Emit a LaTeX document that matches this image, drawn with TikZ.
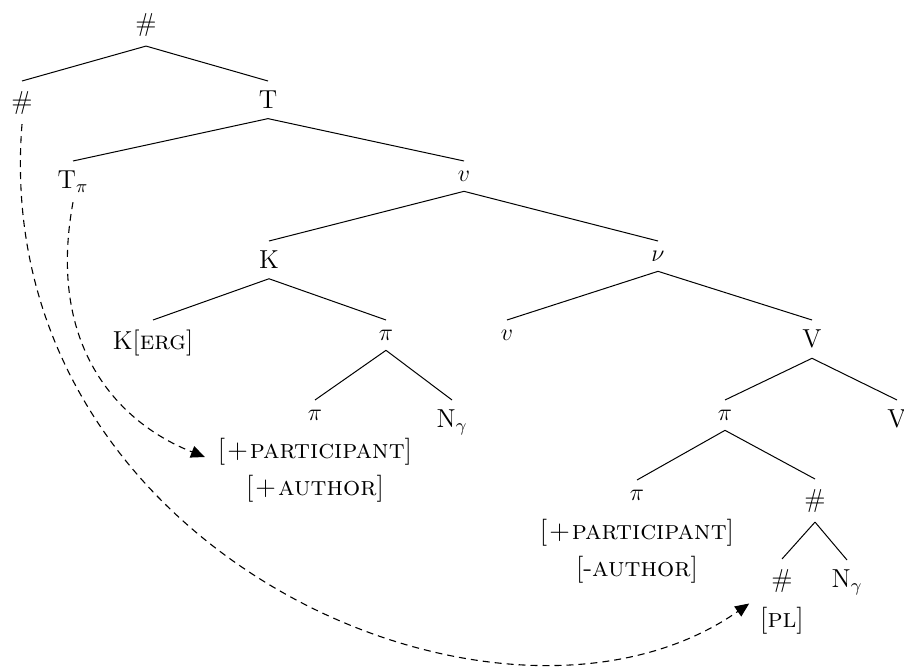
\documentclass[tikz,border=0pt]{standalone}
\usetikzlibrary{arrows.meta}
\begin{document}
\begin{tikzpicture}[x=0.5pt,y=-0.5pt,
  lbl/.style={font=\fontsize{13}{15}\selectfont, inner xsep=0pt, inner ysep=5pt, outer sep=0pt, anchor=north},
  feat/.style={font=\fontsize{13.5}{15}\selectfont, inner sep=0pt, outer sep=0pt, anchor=center},
  edge/.style={line width=0.5pt},
  mv/.style={line width=0.55pt, dash pattern=on 3.5pt off 2.5pt, -{Triangle[length=7pt,width=6pt]}}]
\useasboundingbox (0,0) rectangle (904,667);
% tree nodes
\node[lbl] (r) at (146,3) {\#};
\node[lbl] (h1) at (22,81) {\#};
\node[lbl] (t) at (268,81) {T};
\node[lbl] (tpi) at (73,161) {T$_\pi$};
\node[lbl] (v1) at (464,161) {$v$};
\node[lbl] (k) at (269,241) {K};
\node[lbl] (nu) at (658,241) {$\nu$};
\node[lbl] (kerg) at (153,320) {K[\textsc{erg}]};
\node[lbl] (p1) at (386,320) {$\pi$};
\node[lbl] (v2) at (507,320) {$v$};
\node[lbl] (vv) at (812,320) {V};
\node[lbl] (p2) at (315,400) {$\pi$};
\node[lbl] (n1) at (452,400) {N$_\gamma$};
\node[lbl] (p3) at (725,400) {$\pi$};
\node[lbl] (vv2) at (897,400) {V};
\node[lbl] (p4) at (637,480) {$\pi$};
\node[lbl] (h2) at (815,479) {\#};
\node[lbl] (h3) at (782,559) {\#};
\node[lbl] (n2) at (847,560) {N$_\gamma$};
% features
\node[feat] (f1) at (315,452) {[\kern1pt+\kern1pt\textsc{participant}]};
\node[feat] (f2) at (315,489) {[\kern1pt+\kern1pt\textsc{author}]};
\node[feat] (f3) at (637,533) {[\kern1pt+\kern1pt\textsc{participant}]};
\node[feat] (f4) at (637,570) {[{-}\textsc{author}]};
\node[feat] (pl) at (782,621) {[\textsc{pl}]};
% edges
\draw[edge] (r.south) -- (h1.north);
\draw[edge] (r.south) -- (t.north);
\draw[edge] (t.south) -- (tpi.north);
\draw[edge] (t.south) -- (v1.north);
\draw[edge] (v1.south) -- (k.north);
\draw[edge] (v1.south) -- (nu.north);
\draw[edge] (k.south) -- (kerg.north);
\draw[edge] (k.south) -- (p1.north);
\draw[edge] (nu.south) -- (v2.north);
\draw[edge] (nu.south) -- (vv.north);
\draw[edge] (p1.south) -- (p2.north);
\draw[edge] (p1.south) -- (n1.north);
\draw[edge] (vv.south) -- (p3.north);
\draw[edge] (vv.south) -- (vv2.north);
\draw[edge] (p3.south) -- (p4.north);
\draw[edge] (p3.south) -- (h2.north);
\draw[edge] (h2.south) -- (h3.north);
\draw[edge] (h2.south) -- (n2.north);
% movement arrows
\draw[mv] (tpi.south) .. controls +(-27,147) and +(-84,-33) .. ([shift={(-13,5)}]f1.west);
\draw[mv] (h1.south) .. controls +(-34,430) and +(-246,172) .. ([shift={(-11,-4)}]pl.north west);
\end{tikzpicture}
\end{document}
